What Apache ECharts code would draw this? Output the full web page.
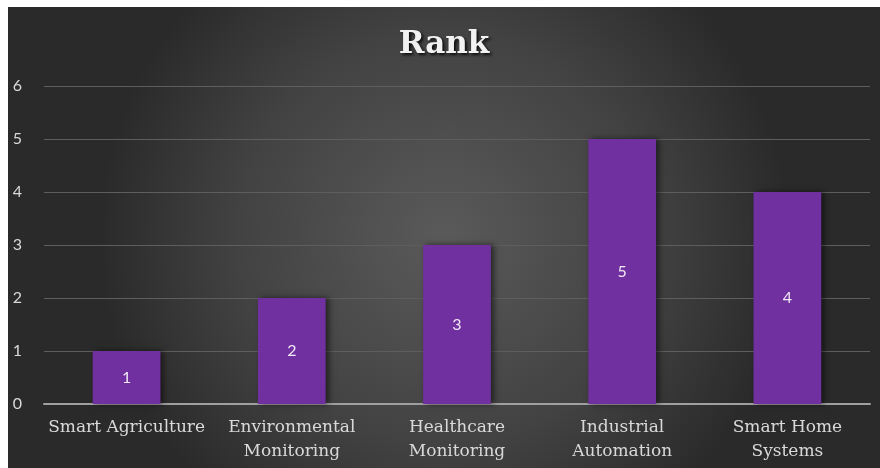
<!DOCTYPE html>
<html>
<head>
<meta charset="utf-8">
<script src="https://cdn.jsdelivr.net/npm/echarts@6/dist/echarts.min.js"></script>
<style>
html,body{margin:0;padding:0;background:#ffffff;}
#chart{position:absolute;left:8px;top:7px;width:872px;height:461px;}
</style>
</head>
<body>
<div id="chart"></div>
<script>
const categories = ['Smart Agriculture', 'Environmental\nMonitoring', 'Healthcare\nMonitoring', 'Industrial\nAutomation', 'Smart Home\nSystems'];
const rankValues = [1, 2, 3, 5, 4];
const yTicks = [0, 1, 2, 3, 4, 5, 6];

const chart = echarts.init(document.getElementById('chart'));
chart.setOption({
  animation: false,
  backgroundColor: {
    type: 'radial', x: 0.5, y: 0.5, r: 0.75,
    colorStops: [
      {offset: 0, color: '#5a5a5a'},
      {offset: 0.6, color: '#424242'},
      {offset: 1, color: '#2a2a2a'}
    ]
  },
  title: {
    text: 'Rank',
    left: 'center',
    top: 17,
    textStyle: {
      fontFamily: 'DejaVu Serif',
      fontWeight: 'bold',
      fontSize: 31,
      color: '#f2f2f2',
      textShadowColor: 'rgba(0,0,0,0.8)',
      textShadowBlur: 3,
      textShadowOffsetX: 2,
      textShadowOffsetY: 2
    }
  },
  grid: {left: 36, right: 10, top: 79, bottom: 64, containLabel: false},
  xAxis: {
    type: 'category',
    data: categories,
    axisLine: {lineStyle: {color: '#a0a0a0', width: 2}},
    axisTick: {show: false},
    axisLabel: {
      interval: 0,
      margin: 12,
      fontFamily: 'DejaVu Serif',
      fontSize: 17,
      lineHeight: 24,
      color: '#d9d9d9'
    }
  },
  yAxis: {
    type: 'value',
    min: yTicks[0],
    max: yTicks[yTicks.length - 1],
    interval: 1,
    axisLine: {show: false},
    axisTick: {show: false},
    axisLabel: {
      margin: 22,
      fontFamily: 'Lato',
      fontSize: 16,
      color: '#d9d9d9'
    },
    splitLine: {lineStyle: {color: '#5e5e5e', width: 1}}
  },
  series: [{
    type: 'bar',
    data: rankValues,
    barWidth: '41%',
    itemStyle: {
      color: '#7030a0',
      shadowColor: 'rgba(0,0,0,0.55)',
      shadowBlur: 6,
      shadowOffsetX: 3,
      shadowOffsetY: 0
    },
    label: {
      show: true,
      position: 'inside',
      fontFamily: 'Lato',
      fontSize: 16,
      color: '#f0e8f5'
    }
  }]
});
</script>
</body>
</html>
